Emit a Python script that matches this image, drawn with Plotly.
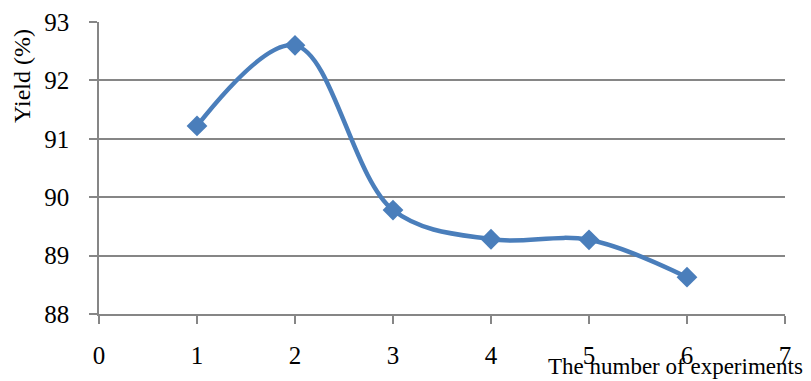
import plotly.graph_objects as go

experiments = [1, 2, 3, 4, 5, 6]
yield_pct = [91.22, 92.6, 89.78, 89.28, 89.27, 88.63]
x_ticks = [0, 1, 2, 3, 4, 5, 6, 7]
y_ticks = [88, 89, 90, 91, 92, 93]

color = "#4a7ebb"
font = "Liberation Serif"

# page body has an 8px margin; compensate so the plot lands where the reference has it
OFF = 8
W, H = 811, 381 - OFF
L, T = 99 - OFF, 22 - OFF
pw = 686
ph = 292
R = W - L - pw
B = H - T - ph


def px_to_paper(px, py):
    px -= OFF
    py -= OFF
    return (px - L) / pw, 1 - (py - T) / ph


fig = go.Figure()
fig.add_trace(go.Scatter(
    x=experiments, y=yield_pct, mode="lines+markers",
    line=dict(color=color, width=4.5, shape="spline", smoothing=1.0),
    marker=dict(symbol="diamond", size=16, color=color),
    showlegend=False,
))

ax1 = px_to_paper(22, 76)
ax2 = px_to_paper(675, 366)

fig.update_layout(
    width=W, height=H,
    margin=dict(l=L, r=R, t=T, b=B, autoexpand=False),
    paper_bgcolor="white", plot_bgcolor="white",
    font=dict(family=font, size=25, color="black"),
    xaxis=dict(range=[0, 7], tickvals=x_ticks, showgrid=False, automargin=False,
               showline=True, linecolor="#868686", linewidth=1.5,
               ticks="outside", ticklen=8, tickcolor="#868686", tickwidth=1.5,
               ticklabelstandoff=10, zeroline=False,
               tickfont=dict(family=font, size=25)),
    yaxis=dict(range=[88, 93], tickvals=y_ticks, showgrid=True, automargin=False,
               gridcolor="#868686", gridwidth=1.5,
               showline=True, linecolor="#868686", linewidth=1.5,
               ticks="outside", ticklen=8, tickcolor="#868686", tickwidth=1.5,
               ticklabelstandoff=15, zeroline=False,
               tickfont=dict(family=font, size=25)),
    annotations=[
        dict(text="Yield (%)", x=ax1[0], y=ax1[1], xref="paper", yref="paper",
             xanchor="center", yanchor="middle",
             showarrow=False, textangle=-90, font=dict(family=font, size=24)),
        dict(text="The number of experiments", x=ax2[0], y=ax2[1],
             xref="paper", yref="paper", xanchor="center", yanchor="middle",
             showarrow=False, font=dict(family=font, size=23)),
    ],
)

fig.write_html("out.html")
